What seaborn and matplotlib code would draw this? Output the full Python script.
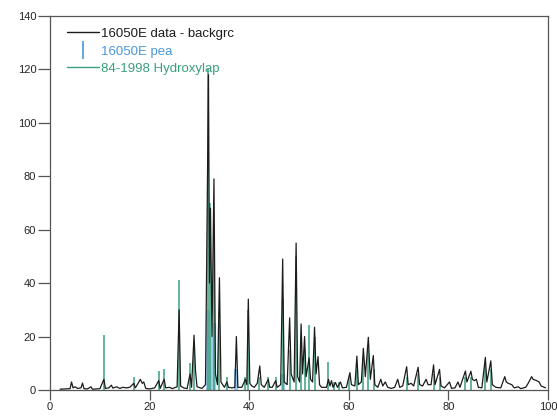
import seaborn as sns
import pandas as pd
import matplotlib.pyplot as plt
from matplotlib.lines import Line2D

data_2theta = [2.0, 4.0, 4.3, 4.6, 5.0, 5.5, 6.2, 6.5, 6.8, 7.5, 8.2, 8.5, 10.0, 10.8, 11.1,
               11.8, 12.3, 12.6, 13.3, 14.0, 14.6, 15.3, 16.0, 16.8, 17.1, 17.7, 18.1, 18.5,
               18.8, 19.2, 20.0, 21.0, 21.8, 22.1, 22.9, 23.2, 24.0, 24.5, 25.5, 25.9, 26.2,
               26.8, 27.5, 28.1, 28.4, 28.9, 29.2, 29.5, 30.5, 31.2, 31.8, 32.0, 32.2, 32.5,
               32.9, 33.2, 33.6, 34.0, 34.3, 35.0, 35.5, 35.8, 36.5, 37.1, 37.4, 37.7, 38.5,
               39.2, 39.5, 39.8, 40.1, 40.5, 41.0, 41.6, 42.1, 42.4, 43.0, 43.8, 44.1, 44.6,
               45.3, 45.6, 46.3, 46.7, 47.0, 47.6, 48.1, 48.4, 49.0, 49.4, 49.7, 50.1, 50.4,
               50.7, 51.1, 51.4, 52.0, 52.3, 52.7, 53.1, 53.4, 53.8, 54.1, 54.5, 55.5, 55.9,
               56.2, 56.5, 56.8, 57.3, 57.7, 58.3, 58.7, 59.5, 60.2, 60.5, 61.2, 61.6, 61.9,
               62.5, 62.9, 63.3, 63.9, 64.3, 64.9, 65.2, 65.8, 66.4, 66.8, 67.3, 67.8, 68.5,
               69.2, 69.8, 70.2, 70.8, 71.6, 71.9, 72.5, 73.0, 73.9, 74.2, 74.8, 75.5, 75.9,
               76.5, 77.0, 77.3, 78.2, 78.5, 79.2, 80.2, 80.6, 81.3, 81.9, 82.3, 83.4, 83.7,
               84.5, 84.8, 85.2, 85.6, 86.0, 86.7, 87.4, 87.7, 88.5, 88.8, 89.5, 90.5, 91.3,
               91.6, 92.0, 92.7, 93.2, 94.0, 94.5, 95.5, 96.0, 96.7, 97.0, 97.7, 98.2, 98.6,
               99.5]
data_counts = [0.3, 0.5, 3.0, 0.8, 1.2, 0.6, 0.8, 2.6, 0.5, 0.4, 1.2, 0.3, 0.5, 4.0, 0.6,
               0.8, 1.8, 0.7, 1.2, 0.6, 1.0, 0.8, 1.0, 2.5, 0.8, 2.6, 4.0, 2.5,
               3.0, 0.6, 0.4, 0.8, 3.5, 0.6, 4.0, 0.8, 1.0, 0.5, 1.2, 30.0, 1.5,
               0.8, 0.5, 6.0, 1.0, 20.5, 7.0, 1.2, 0.6, 2.0, 118.0, 40.0, 68.0, 20.0,
               79.0, 6.0, 2.0, 42.0, 3.0, 1.0, 3.0, 1.0, 0.8, 1.0, 20.0, 1.0, 1.0,
               4.0, 2.0, 34.0, 2.5, 1.5, 1.0, 2.5, 9.0, 2.0, 1.0, 4.0, 1.0, 1.0,
               3.5, 1.0, 2.0, 49.0, 3.0, 2.0, 27.0, 6.0, 3.0, 55.0, 5.0, 3.0, 24.7,
               6.0, 20.0, 5.0, 12.0, 4.0, 3.0, 23.5, 6.0, 12.5, 2.0, 1.0, 1.0, 4.0,
               1.5, 3.5, 1.0, 2.8, 1.0, 3.0, 0.8, 1.0, 6.5, 2.0, 1.5, 12.7, 2.0,
               3.0, 15.6, 5.0, 19.7, 4.0, 12.9, 2.0, 1.0, 4.0, 1.5, 3.0, 1.0, 0.6,
               1.0, 4.0, 1.0, 1.5, 8.7, 2.0, 2.5, 1.5, 8.5, 2.0, 1.5, 4.0, 2.0,
               2.0, 9.4, 2.0, 7.7, 1.5, 0.8, 3.0, 0.6, 0.8, 3.0, 1.0, 7.1, 3.0,
               7.0, 4.0, 3.5, 4.0, 1.0, 0.8, 12.2, 3.0, 10.9, 2.0, 1.0, 0.8, 5.0,
               3.0, 2.5, 2.0, 0.8, 1.2, 0.5, 1.0, 2.5, 5.0, 4.0, 3.5, 3.0, 1.5,
               0.8]

# 16050E peaks
peak_2theta = [31.8, 32.2, 32.9, 37.4, 46.7]
peak_counts = [30.0, 20.0, 25.0, 8.0, 6.0]

# 84-1998 Hydroxylapatite reference pattern
ref_2theta = [10.8, 16.8, 21.8, 22.9, 25.9, 28.1, 28.9, 31.8, 32.2, 32.9, 34.0, 35.5,
              39.2, 39.8, 42.0, 43.8, 45.3, 46.7, 48.1, 49.4, 50.4, 51.2, 52.0, 53.1,
              55.9, 57.1, 58.1, 60.0, 61.6, 62.9, 63.9, 65.0, 71.6, 73.9, 77.0, 78.2,
              83.4, 84.5, 87.4, 88.5]
ref_counts = [20.5, 5.0, 7.0, 8.0, 41.0, 10.0, 18.0, 120.0, 70.0, 60.0, 25.0, 5.0,
              5.0, 30.0, 5.0, 5.0, 5.0, 34.0, 15.0, 50.0, 20.0, 15.0, 24.5, 20.0,
              10.6, 3.0, 3.0, 5.0, 8.0, 12.0, 15.0, 8.0, 5.0, 6.0, 6.0, 5.0,
              5.0, 5.0, 9.0, 8.0]

profile = pd.DataFrame({"2theta": data_2theta, "counts": data_counts})

sns.set_theme(style="ticks")
plt.rcParams["font.family"] = ["Liberation Sans", "DejaVu Sans"]

black = "#1c1c1c"
blue = "#4a97d8"
green = "#3aa07a"

fig = plt.figure(figsize=(5.57, 4.18), dpi=100)
ax = fig.add_axes([0.09, 0.067, 0.894, 0.895])

ax.vlines(peak_2theta, 0, peak_counts, color="#9ccbee", linewidth=3, zorder=1)
ax.vlines(ref_2theta, 0, ref_counts, color=green, linewidth=1.1, zorder=2)
sns.lineplot(data=profile, x="2theta", y="counts", sort=False, estimator=None,
             color=black, linewidth=0.9, ax=ax, zorder=3)

ax.set_xlim(0, 100)
ax.set_ylim(0, 140)
ax.set_xticks([0, 20, 40, 60, 80, 100])
ax.set_yticks([0, 20, 40, 60, 80, 100, 120, 140])
ax.set_xlabel("")
ax.set_ylabel("")
for s in ax.spines.values():
    s.set_color("#555555")
    s.set_linewidth(0.9)
ax.tick_params(axis="y", length=9, width=0.9, color="#555555", labelsize=8, pad=1)
ax.tick_params(axis="x", length=7, width=0.9, color="#555555", labelsize=8, pad=2)

handles = [Line2D([], [], color=black, linewidth=1),
           Line2D([], [], color=blue, marker="|", linestyle="none", markersize=13,
                  markeredgewidth=1.2),
           Line2D([], [], color=green, linewidth=1)]
labels = ["16050E data - backgrc", "16050E pea", "84-1998 Hydroxylap"]
leg = ax.legend(handles, labels, loc="upper left", frameon=False, fontsize=9.5,
                handlelength=2.4, handletextpad=0.15, labelspacing=0.4,
                bbox_to_anchor=(0.01, 1.0))
for t, c in zip(leg.get_texts(), [black, blue, green]):
    t.set_color(c)

fig.savefig("out.png", dpi=100)
